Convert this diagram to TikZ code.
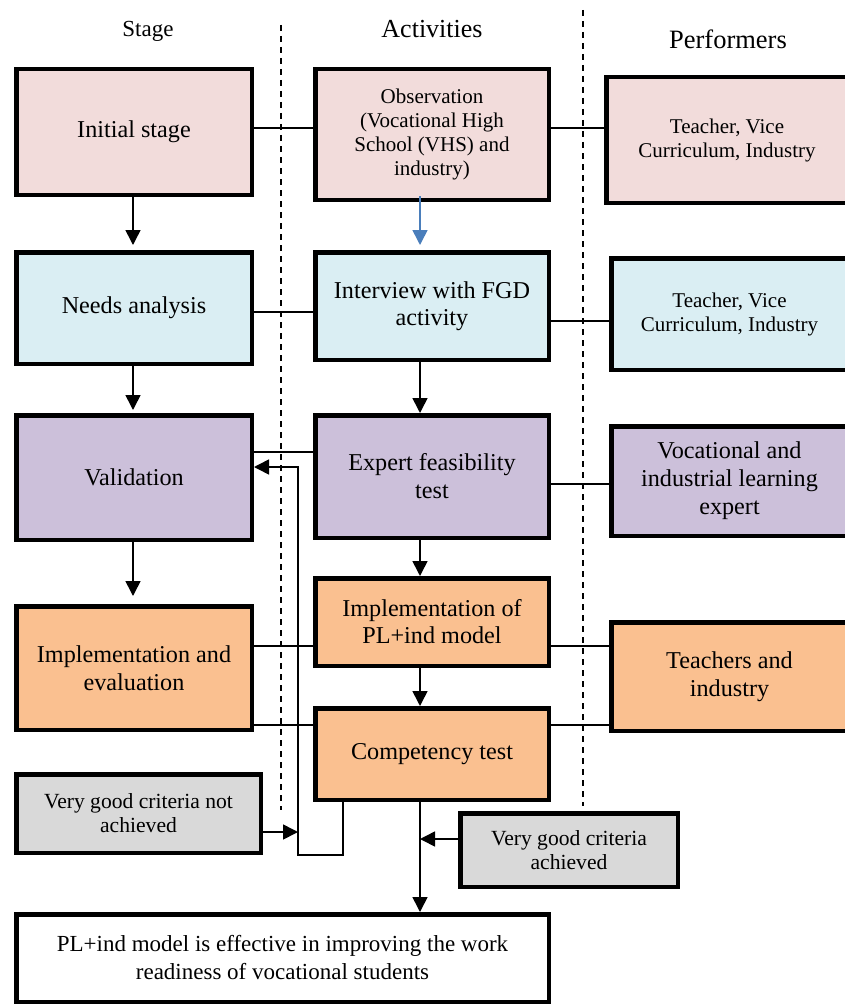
\documentclass[tikz,border=0pt]{standalone}
\usepackage{fontspec}
\setmainfont{Liberation Serif}
\usetikzlibrary{arrows.meta}
\definecolor{pinkc}{HTML}{F2DCDB}
\definecolor{bluec}{HTML}{DAEEF3}
\definecolor{purpc}{HTML}{CCC0DA}
\definecolor{orgc}{HTML}{FAC090}
\definecolor{grayc}{HTML}{D9D9D9}
\definecolor{arrblue}{HTML}{4A7EBB}
\newcommand\txtL{\fontsize{24.2}{28}\selectfont}
\newcommand\txtF{\fontsize{23}{28}\selectfont}
\newcommand\txtM{\fontsize{21}{24}\selectfont}
\newcommand\txtS{\fontsize{21.6}{24}\selectfont}
\begin{document}
\begin{tikzpicture}[x=1pt,y=-1pt,
  box/.style={draw, line width=4.5pt, rectangle, inner sep=0pt, align=center, font=\txtL},
  conn/.style={line width=1.6pt},
  arr/.style={line width=1.6pt, -{Triangle[width=15pt,length=15pt]}},
  dashline/.style={line width=1.5pt, dash pattern=on 6pt off 5pt},
  head/.style={inner sep=0pt}]
\useasboundingbox (0,0) rectangle (845,1006);
% headers
\node[head, font=\fontsize{23}{26}\selectfont] (h1) at (148,31) {Stage};
\node[head, font=\fontsize{26}{30}\selectfont] (h2) at (432,29) {Activities};
\node[head, font=\fontsize{26.5}{30}\selectfont] (h3) at (728,39) {Performers};
% dashed separators
\draw[dashline] (281,25) -- (281,810);
\draw[dashline] (583,10) -- (583,806);
% stage column
\node[box, fill=pinkc, minimum width=235.5pt, minimum height=125.5pt] (s1) at (134,132) {Initial stage};
\node[box, fill=bluec, minimum width=235.5pt, minimum height=111.5pt] (s2) at (134,308) {Needs analysis};
\node[box, fill=purpc, minimum width=235.5pt, minimum height=124.5pt] (s3) at (134,477.5) {Validation};
\node[box, fill=orgc, minimum width=235.5pt, minimum height=123.5pt] (s4) at (134,668) {Implementation and\\evaluation};
% activities column
\node[box, fill=pinkc, minimum width=233.5pt, minimum height=130.5pt, font=\txtM] (a1) at (432,134.5) {Observation\\(Vocational High\\School (VHS) and\\industry)};
\node[box, fill=bluec, minimum width=233.5pt, minimum height=107.5pt, font=\fontsize{24.2}{27}\selectfont] (a2) at (432,306) {Interview with FGD\\activity};
\node[box, fill=purpc, minimum width=233.5pt, minimum height=122.5pt] (a3) at (432,476.5) {Expert feasibility\\test};
\node[box, fill=orgc, minimum width=233.5pt, minimum height=87.5pt, font=\fontsize{24.2}{27}\selectfont] (a4) at (432,622) {Implementation of\\PL+ind model};
\node[box, fill=orgc, minimum width=233.5pt, minimum height=91.5pt] (a5) at (432,754) {Competency test};
% performers column
\node[box, fill=pinkc, minimum width=241.5pt, minimum height=125.5pt, font=\txtM] (p1) at (727,140) {Teacher, Vice\\Curriculum, Industry};
\node[box, fill=bluec, minimum width=236.5pt, minimum height=111.5pt, font=\txtM] (p2) at (729.5,314) {Teacher, Vice\\Curriculum, Industry};
\node[box, fill=purpc, minimum width=236.5pt, minimum height=109.5pt] (p3) at (729.5,481) {Vocational and\\industrial learning\\expert};
\node[box, fill=orgc, minimum width=236.5pt, minimum height=108.5pt] (p4) at (729.5,676.5) {Teachers and\\industry};
% criteria boxes
\node[box, fill=grayc, minimum width=244.5pt, minimum height=78.5pt, font=\txtS] (g1) at (138.5,813.5) {Very good criteria not\\achieved};
\node[box, fill=grayc, minimum width=217.5pt, minimum height=73.5pt, font=\txtS] (g2) at (569,850) {Very good criteria\\achieved};
% final box
\node[box, fill=white, minimum width=532.5pt, minimum height=87.5pt, font=\txtF] (f) at (282.5,958) {PL+ind model is effective in improving the work\\readiness of vocational students};
% horizontal connectors
\draw[conn] (s1.east |- 0,128) -- (a1.west |- 0,128);
\draw[conn] (a1.east |- 0,128) -- (p1.west |- 0,128);
\draw[conn] (s2.east |- 0,312) -- (a2.west |- 0,312);
\draw[conn] (a2.east |- 0,321) -- (p2.west |- 0,321);
\draw[conn] (a3.west |- 0,452) -- (s3.east |- 0,452);
\draw[conn] (a3.east |- 0,484) -- (p3.west |- 0,484);
\draw[conn] (s4.east |- 0,646) -- (a4.west |- 0,646);
\draw[conn] (a4.east |- 0,646) -- (p4.west |- 0,646);
\draw[conn] (s4.east |- 0,725) -- (a5.west |- 0,725);
\draw[conn] (a5.east |- 0,725) -- (p4.west |- 0,725);
% vertical arrows, stage
\draw[arr, shorten >=5pt] (s1.south -| 133,0) -- (s2.north -| 133,0);
\draw[arr, shorten >=3pt] (s2.south -| 133,0) -- (s3.north -| 133,0);
\draw[arr, shorten >=8pt] (s3.south -| 133,0) -- (s4.north -| 133,0);
% vertical arrows, activities
\draw[arr, arrblue, shorten <=-6pt, shorten >=5pt] (a1.south -| 420,0) -- (a2.north -| 420,0);
\draw[arr] (a2.south -| 420,0) -- (a3.north -| 420,0);
\draw[arr] (a3.south -| 420,0) -- (a4.north -| 420,0);
\draw[arr] (a4.south -| 420,0) -- (a5.north -| 420,0);
\draw[arr] (a5.south -| 420,0) -- (f.north -| 420,0);
% achieved
\coordinate (ach) at (420,839);
\draw[arr] (g2.west |- ach) -- (ach);
% feedback loop
\coordinate (fb1) at (343,855);
\coordinate (fb2) at (298,855);
\coordinate (fb3) at (298,467);
\draw[arr] (a5.south -| fb1) -- (fb1) -- (fb2) -- (fb3) -- (s3.east |- fb3);
\coordinate (nach) at (298,832);
\draw[arr] (g1.east |- nach) -- (nach);
\end{tikzpicture}
\end{document}
